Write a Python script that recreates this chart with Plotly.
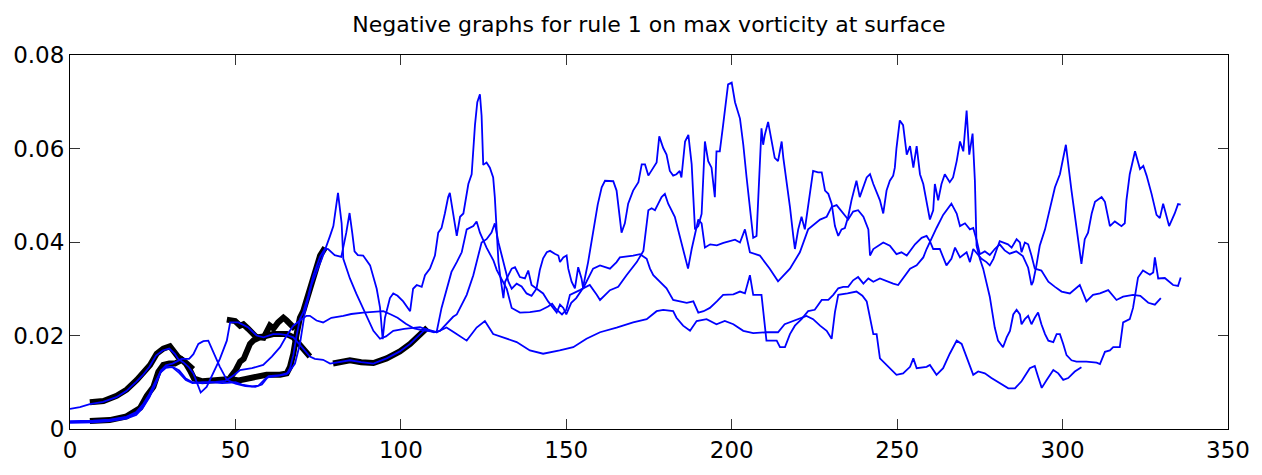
import plotly.graph_objects as go

# Time step (x) and max surface vorticity (y) for each track, as (x, y) pairs.
track_d = [
    (0, 0.0043), (3, 0.0047), (6, 0.0053), (10, 0.0058), (14, 0.0068), (17, 0.0081), (20, 0.0101),
    (22, 0.0115), (24, 0.0133), (26, 0.0157), (28, 0.0168), (30, 0.0172), (31.7, 0.0161), (32.7, 0.0150),
    (34.2, 0.0143), (35.8, 0.0133), (37.3, 0.0119), (38.8, 0.0088), (39.5, 0.0078), (41.3, 0.0090),
    (43.3, 0.0119), (45.3, 0.0150), (47.4, 0.0189), (48.4, 0.0228), (50.9, 0.0228), (53.9, 0.0217),
    (56.4, 0.0200), (58.5, 0.0196), (61.4, 0.0203), (63.5, 0.0203), (65.5, 0.0201), (67.5, 0.0196),
    (69.5, 0.0180), (71.5, 0.0163), (72.5, 0.0155), (74, 0.0150), (76.5, 0.0148), (78.6, 0.0140),
    (81, 0.0143), (84.6, 0.0147), (88, 0.0143), (91.7, 0.0140), (95.7, 0.0151), (99.7, 0.0166),
    (102.8, 0.0182), (105.8, 0.0203), (107.5, 0.0214), (110.8, 0.0207), (113.8, 0.0217), (116.5, 0.0205),
    (119.9, 0.0189), (122.9, 0.0217), (125.4, 0.0231), (127.9, 0.0203), (131, 0.0195), (135, 0.0186),
    (139, 0.0168), (143, 0.0161), (148, 0.0168), (152.1, 0.0175), (156.1, 0.0193), (160.2, 0.0207),
    (165.2, 0.0217), (170.2, 0.0228), (174.3, 0.0235), (177.3, 0.0252), (179.3, 0.0255), (182.3, 0.0252),
    (183.3, 0.0238), (185.3, 0.0221), (187.4, 0.0210), (189.4, 0.0231), (192.4, 0.0235), (195.4, 0.0224),
    (197.9, 0.0231), (200.5, 0.0224), (203.5, 0.0210), (206.5, 0.0205), (210.5, 0.0207), (214, 0.0207),
    (216, 0.0224), (218.6, 0.0231), (221.1, 0.0238), (222.6, 0.0242), (224.6, 0.0235), (226.7, 0.0221),
    (228.7, 0.0210), (230.2, 0.0193), (231.2, 0.0250), (232.2, 0.0287), (235, 0.0290), (237.7, 0.0294),
    (239.5, 0.0285), (240.8, 0.0273), (242.8, 0.0203), (243.8, 0.0203), (244.8, 0.0151), (246.8, 0.0137),
    (249.8, 0.0116), (251.8, 0.0119), (253.9, 0.0133), (254.9, 0.0151), (255.9, 0.0130), (258.9, 0.0133),
    (259.9, 0.0137), (261.9, 0.0116), (263.9, 0.0130), (265.9, 0.0161), (268, 0.0189), (269.5, 0.0182),
    (271, 0.0154), (273, 0.0116), (274.5, 0.0123), (276.5, 0.0119), (278.5, 0.0109), (281, 0.0098),
    (283.6, 0.0087), (285.6, 0.0087), (287.6, 0.0102), (290.1, 0.0130), (291.6, 0.0135), (292.6, 0.0112),
    (293.7, 0.0088), (295.2, 0.0105), (297.2, 0.0126), (298.7, 0.0119), (300.2, 0.0105), (301.7, 0.0109),
    (303.7, 0.0123), (305.7, 0.0132),
]

track_e = [
    (0, 0.0015), (3, 0.0015), (7, 0.0016), (12, 0.0019), (17, 0.0025), (20, 0.0033), (22, 0.0048),
    (24, 0.0070), (26, 0.0100), (27.5, 0.0122), (29, 0.0131), (31, 0.0133), (33, 0.0125), (35, 0.0108),
    (37, 0.0100), (40, 0.0098), (43, 0.0100), (46, 0.0098), (50, 0.0100), (52, 0.0095), (55, 0.0091),
    (57, 0.0093), (59.4, 0.0110), (63.5, 0.0114), (65.5, 0.0117), (66.5, 0.0130), (67.5, 0.0158),
    (68.5, 0.0200), (69.5, 0.0235), (70.5, 0.0250), (72, 0.0285), (73.5, 0.0327), (75.6, 0.0369),
    (77.1, 0.0386), (78, 0.0385), (80, 0.0372), (82, 0.0368), (83.5, 0.0420), (84.5, 0.0462),
    (85.3, 0.0420), (86, 0.0380), (87, 0.0372), (88.6, 0.0371), (90.7, 0.0350), (92.7, 0.0300),
    (93.7, 0.0260), (94.5, 0.0192), (95.2, 0.0238), (96.7, 0.0280), (97.7, 0.0290), (99, 0.0285),
    (100.7, 0.0273), (102.8, 0.0252), (103.7, 0.0300), (104.8, 0.0308), (106.3, 0.0304), (107.3, 0.0329),
    (108.8, 0.0343), (110.3, 0.0371), (111.3, 0.0420), (112.3, 0.0430), (113.3, 0.0461), (114.3, 0.0496),
    (114.8, 0.0505), (115.8, 0.0465), (116.9, 0.0413), (117.9, 0.0454), (118.9, 0.0461), (120.4, 0.0524),
    (121.4, 0.0545), (122.4, 0.0650), (123.1, 0.0699), (123.9, 0.0716), (124.4, 0.0670), (124.9, 0.0565),
    (125.9, 0.0570), (126.9, 0.0559), (127.9, 0.0538), (128.4, 0.0496), (129, 0.0427), (129.5, 0.0357),
    (130, 0.0329), (131, 0.0280), (131.5, 0.0315), (132.5, 0.0329), (133.5, 0.0343), (134.5, 0.0346),
    (136, 0.0325), (137.5, 0.0322), (138.5, 0.0339), (139.5, 0.0308), (141, 0.0301), (143, 0.0290),
    (144.5, 0.0273), (146, 0.0259), (147.1, 0.0249), (148.1, 0.0266), (149.1, 0.0259), (150, 0.0245),
    (151.5, 0.0270), (153, 0.0280), (155, 0.0301), (156.6, 0.0357), (158.2, 0.0420), (159.5, 0.0480),
    (160.7, 0.0517), (161.7, 0.0531), (164.2, 0.0530), (165.2, 0.0510), (166.7, 0.0420), (167.7, 0.0440),
    (168.7, 0.0482), (170.2, 0.0510), (171.8, 0.0528), (172.8, 0.0566), (173.8, 0.0566), (174.8, 0.0542),
    (177.3, 0.0570), (178.1, 0.0626), (179.3, 0.0601), (180.3, 0.0587), (181.3, 0.0552), (182.3, 0.0542),
    (183.3, 0.0545), (184.3, 0.0552), (184.8, 0.0538), (185.9, 0.0615), (186.9, 0.0629), (187.9, 0.0566),
    (188.4, 0.0496), (188.9, 0.0427), (189.9, 0.0434), (190.9, 0.0460), (191.9, 0.0615), (192.9, 0.0573),
    (193.9, 0.0559), (194.9, 0.0496), (195.4, 0.0594), (196.4, 0.0594), (197.4, 0.0650), (198.9, 0.0737),
    (200, 0.0741), (201, 0.0699), (202.5, 0.0664), (203.5, 0.0608), (204.5, 0.0538), (205.5, 0.0475),
    (206.5, 0.0409), (207.5, 0.0413), (208, 0.0482), (208.5, 0.0580), (209, 0.0643), (209.5, 0.0608),
    (210, 0.0629), (211, 0.0657), (212, 0.0622), (213, 0.0580), (214, 0.0573), (214.6, 0.0594),
    (215.1, 0.0615), (215.6, 0.0580), (216.6, 0.0531), (217.6, 0.0475), (218.6, 0.0413), (219.1, 0.0385),
    (220.1, 0.0427), (221.1, 0.0454), (222.1, 0.0427), (222.6, 0.0454), (223.6, 0.0496), (224.6, 0.0552),
    (226.1, 0.0549), (227.2, 0.0549), (228.2, 0.0510), (229.2, 0.0503), (230.2, 0.0482), (231.2, 0.0434),
    (232.2, 0.0413), (233.2, 0.0427), (234.2, 0.0430), (235.2, 0.0454), (236.2, 0.0489), (237.7, 0.0531),
    (238.7, 0.0496), (239.8, 0.0517), (240.8, 0.0538), (241.8, 0.0545), (242.8, 0.0524), (244.8, 0.0489),
    (245.8, 0.0461), (246.8, 0.0510), (247.8, 0.0531), (248.8, 0.0542), (249.3, 0.0559), (249.8, 0.0601),
    (250.8, 0.0660), (251.8, 0.0650), (252.9, 0.0587), (253.9, 0.0605), (254.9, 0.0559), (255.9, 0.0605),
    (256.9, 0.0545), (257.9, 0.0524), (258.9, 0.0489), (259.9, 0.0448), (260.9, 0.0468), (261.4, 0.0524),
    (262.4, 0.0489), (263.4, 0.0524), (264.4, 0.0545), (265.9, 0.0528), (266.9, 0.0538), (268, 0.0573),
    (269, 0.0615), (270, 0.0594), (271, 0.0681), (271.8, 0.0587), (272.8, 0.0632), (273.5, 0.0531),
    (274, 0.0392), (275, 0.0364), (276, 0.0343), (277, 0.0315), (278, 0.0283), (279.5, 0.0217),
    (280.5, 0.0189), (282, 0.0175), (283.1, 0.0196), (284.1, 0.0210), (285.1, 0.0245), (286.1, 0.0255),
    (287.1, 0.0245), (287.6, 0.0224), (288.6, 0.0235), (289.6, 0.0242), (290.6, 0.0224), (291.6, 0.0238),
    (292.6, 0.0249), (293.6, 0.0224), (294.7, 0.0203), (295.7, 0.0189), (297.2, 0.0186), (298.2, 0.0203),
    (299.2, 0.0203), (300.2, 0.0182), (301.2, 0.0158), (302.7, 0.0147), (304.2, 0.0144), (307.2, 0.0144),
    (310.3, 0.0142), (311.3, 0.0139), (312.8, 0.0165), (314.3, 0.0168), (315.3, 0.0175), (317.3, 0.0175),
    (318.3, 0.0228), (320.3, 0.0235), (321.3, 0.0259), (322.8, 0.0324), (324.3, 0.0339), (326.4, 0.0330),
    (327.4, 0.0335), (327.9, 0.0367), (328.9, 0.0322), (330.9, 0.0323), (333.4, 0.0308), (334.9, 0.0306),
    (335.7, 0.0324),
]

track_q = [
    (0, 0.0013), (3, 0.0013), (7, 0.0014), (12, 0.0017), (17, 0.0022), (20, 0.0030), (22, 0.0045),
    (24, 0.0068), (26, 0.0098), (27.5, 0.0125), (29, 0.0136), (31, 0.0140), (33.8, 0.0150), (36, 0.0150),
    (37.3, 0.0160), (38.8, 0.0182), (40.3, 0.0188), (41.8, 0.0189), (43.5, 0.0160), (45.3, 0.0133),
    (47.4, 0.0105), (50, 0.0097), (53, 0.0092), (56, 0.0090), (58, 0.0095), (60, 0.0113), (63.5, 0.0115),
    (66, 0.0120), (68, 0.0140), (69.5, 0.0182), (71, 0.0250), (73, 0.0308), (75, 0.0345), (76.1, 0.0364),
    (78.6, 0.0413), (79.6, 0.0434), (81, 0.0505), (82.1, 0.0440), (82.6, 0.0364), (84.6, 0.0322),
    (86.5, 0.0290), (88.1, 0.0266), (90, 0.0235), (91.7, 0.0210), (93.7, 0.0193), (95.5, 0.0198),
    (97.7, 0.0210), (101, 0.0214), (105.8, 0.0218), (108, 0.0212), (110, 0.0207), (111.8, 0.0210),
    (113.8, 0.0225), (115.8, 0.0240), (116.9, 0.0245), (118.4, 0.0265), (119.9, 0.0287), (121.9, 0.0329),
    (123.4, 0.0371), (124.4, 0.0399), (125.9, 0.0406), (127.4, 0.0420), (128.4, 0.0440), (129.5, 0.0399),
    (130.5, 0.0371), (132.5, 0.0315), (133.5, 0.0300), (135, 0.0311), (136.5, 0.0305), (138, 0.0290),
    (139.5, 0.0285), (141, 0.0300), (142, 0.0340), (143, 0.0365), (144.1, 0.0378), (145.1, 0.0381),
    (146.5, 0.0375), (147.6, 0.0371), (148.1, 0.0357), (149.1, 0.0367), (150.1, 0.0371), (150.6, 0.0343),
    (151.6, 0.0315), (152.6, 0.0301), (153.6, 0.0346), (154.6, 0.0322), (155.1, 0.0301), (156.1, 0.0315),
    (158.1, 0.0343), (160.2, 0.0350), (163.2, 0.0343), (165.2, 0.0357), (166.2, 0.0367), (170.2, 0.0371),
    (172.3, 0.0374), (174.3, 0.0364), (175.3, 0.0343), (176.3, 0.0329), (180.3, 0.0301), (182.3, 0.0276),
    (184.3, 0.0273), (186.4, 0.0270), (188.4, 0.0273), (189.9, 0.0249), (191.5, 0.0252), (193.4, 0.0259),
    (195.5, 0.0273), (197.4, 0.0287), (200.5, 0.0288), (202.5, 0.0294), (204, 0.0290), (205.5, 0.0329),
    (206.5, 0.0287), (209, 0.0287), (210.5, 0.0189), (213.6, 0.0189), (214.6, 0.0175), (216.1, 0.0175),
    (217.6, 0.0203), (219.1, 0.0221), (221.1, 0.0235), (223.1, 0.0252), (225.1, 0.0255), (227.2, 0.0276),
    (229.2, 0.0276), (230.7, 0.0287), (232.2, 0.0301), (233.7, 0.0304), (235.2, 0.0304), (236.7, 0.0318),
    (238.2, 0.0325), (239.8, 0.0311), (241.3, 0.0322), (242.8, 0.0315), (244.8, 0.0322), (246.8, 0.0316),
    (248.8, 0.0311), (250.3, 0.0308), (251.8, 0.0322), (253.9, 0.0343), (255.9, 0.0350), (257.9, 0.0367),
    (258.9, 0.0385), (260.4, 0.0409), (261.9, 0.0430), (263.9, 0.0458), (266.4, 0.0482), (268, 0.0461),
    (269, 0.0434), (270.5, 0.0440), (272, 0.0427), (273, 0.0430), (274, 0.0405), (275, 0.0374),
    (276.5, 0.0380), (278, 0.0372), (279.5, 0.0385), (281, 0.0395), (282.5, 0.0382), (284, 0.0375),
    (286, 0.0380), (288, 0.0370), (289.6, 0.0345), (290.6, 0.0308), (291.1, 0.0315), (292.1, 0.0350),
    (293.1, 0.0392), (294.7, 0.0427), (296.7, 0.0489), (297.7, 0.0517), (299.2, 0.0545), (301, 0.0608),
    (302.7, 0.0510), (304.7, 0.0406), (305.7, 0.0353), (306.7, 0.0406), (307.7, 0.0420), (308.8, 0.0461),
    (309.8, 0.0486), (311.8, 0.0496), (312.8, 0.0486), (314.3, 0.0434), (315.8, 0.0444), (317.8, 0.0434),
    (318.8, 0.0440), (319.3, 0.0489), (320.3, 0.0545), (321.9, 0.0594), (323.4, 0.0556), (324.4, 0.0563),
    (325.4, 0.0542), (326.9, 0.0503), (328.4, 0.0458), (329.4, 0.0451), (330.4, 0.0482), (331.2, 0.0461),
    (332.2, 0.0434), (333.9, 0.0461), (334.9, 0.0481), (335.7, 0.0480),
]

track_s = [
    (0, 0.0017), (3, 0.0017), (7, 0.0018), (12, 0.0020), (17, 0.0026), (20, 0.0036), (22, 0.0052),
    (24, 0.0075), (26, 0.0105), (27.5, 0.0125), (29, 0.0133), (31, 0.0132), (33, 0.0120), (35, 0.0105),
    (37, 0.0098), (40, 0.0100), (44, 0.0101), (47, 0.0103), (49.5, 0.0115), (51.4, 0.0126), (55, 0.0130),
    (58.4, 0.0137), (61, 0.0155), (63.5, 0.0175), (65.5, 0.0200), (67.5, 0.0221), (69.5, 0.0232),
    (71.5, 0.0242), (72.5, 0.0242), (74.5, 0.0232), (76.5, 0.0228), (79, 0.0238), (82.6, 0.0242),
    (85, 0.0246), (88.6, 0.0249), (91.7, 0.0250), (94.7, 0.0252), (97, 0.0245), (99, 0.0238),
    (101.5, 0.0225), (104, 0.0215), (106, 0.0212), (108, 0.0210), (110.8, 0.0207), (112.3, 0.0259),
    (113.8, 0.0300), (115.3, 0.0336), (116.9, 0.0357), (118.4, 0.0378), (119.9, 0.0427), (121.9, 0.0434),
    (122.9, 0.0444), (123.9, 0.0420), (125.9, 0.0388), (126.9, 0.0374), (128, 0.0360), (129, 0.0340),
    (130.5, 0.0320), (132, 0.0300), (133.5, 0.0259), (136, 0.0249), (139, 0.0250), (142, 0.0253),
    (144.5, 0.0262), (145.7, 0.0268), (146.7, 0.0258), (147.7, 0.0252), (148.7, 0.0245), (150, 0.0255),
    (151.1, 0.0287), (154.1, 0.0297), (157.1, 0.0308), (159.2, 0.0287), (160.2, 0.0276), (163.2, 0.0297),
    (165.7, 0.0304), (168.2, 0.0329), (171.3, 0.0357), (173.3, 0.0381), (174.8, 0.0468), (175.8, 0.0472),
    (176.8, 0.0468), (177.8, 0.0482), (178.8, 0.0496), (179.8, 0.0503), (180.8, 0.0482), (182.8, 0.0454),
    (184.8, 0.0399), (186.8, 0.0343), (187.9, 0.0385), (188.9, 0.0420), (189.9, 0.0448), (190.9, 0.0440),
    (191.9, 0.0388), (193.5, 0.0395), (195.5, 0.0393), (197.5, 0.0398), (199.5, 0.0402), (201, 0.0405),
    (202.5, 0.0399), (204, 0.0427), (205.5, 0.0378), (208.5, 0.0371), (211.5, 0.0343), (214, 0.0316),
    (217.6, 0.0343), (220.6, 0.0378), (223.1, 0.0427), (226.7, 0.0448), (228.7, 0.0454), (230.2, 0.0475),
    (231.7, 0.0479), (233.7, 0.0461), (235.2, 0.0448), (236.7, 0.0465), (238.2, 0.0468), (239.8, 0.0454),
    (241.3, 0.0427), (241.8, 0.0371), (242.8, 0.0385), (245.8, 0.0399), (247.8, 0.0392), (249.8, 0.0374),
    (251.3, 0.0378), (252.9, 0.0371), (255.4, 0.0395), (257.4, 0.0409), (258.9, 0.0413), (259.9, 0.0402),
    (260.9, 0.0385), (262.9, 0.0385), (264.9, 0.0350), (266.4, 0.0364), (267.5, 0.0388), (269, 0.0367),
    (271, 0.0378), (272, 0.0357), (273, 0.0385), (275.5, 0.0364), (277, 0.0357), (278, 0.0350),
    (279.1, 0.0364), (281, 0.0402), (282.1, 0.0399), (283.5, 0.0395), (284.6, 0.0388), (286.1, 0.0406),
    (287.1, 0.0399), (287.6, 0.0378), (288.6, 0.0399), (289.6, 0.0395), (290.6, 0.0371), (291.6, 0.0343),
    (293.6, 0.0339), (295.7, 0.0315), (297.7, 0.0304), (299.7, 0.0294), (302.2, 0.0290), (305.2, 0.0308),
    (307.2, 0.0273), (309.2, 0.0287), (311.3, 0.0290), (313.8, 0.0297), (316.3, 0.0276), (318.3, 0.0283),
    (321.3, 0.0287), (323.5, 0.0285), (325.9, 0.0270), (327.9, 0.0266), (329.7, 0.0280),
]

# Highlighted (negative) stretches, drawn as thick black segments
neg_1 = [
    (6.0, 0.0057), (10.1, 0.0060), (14.1, 0.0071), (17.1, 0.0084), (20.2, 0.0105), (22.2, 0.0119),
    (24.2, 0.0137), (26.2, 0.0161), (28.2, 0.0172), (30.2, 0.0177), (31.7, 0.0165), (32.7, 0.0154),
    (34.2, 0.0147), (35.8, 0.0137), (37.2, 0.0128),
]
neg_2 = [
    (6.0, 0.0017), (12, 0.0019), (17.1, 0.0027), (21.2, 0.0045), (23.2, 0.0071), (25.2, 0.0090),
    (26.7, 0.0122), (28.2, 0.0137), (30, 0.0140), (31.7, 0.0140), (33.8, 0.0148), (35, 0.0140),
    (36.3, 0.0125), (37.5, 0.0108), (40, 0.0102), (43, 0.0103), (46, 0.0105), (48.4, 0.0107),
    (51, 0.0104), (54.4, 0.0108), (57, 0.0110), (59.4, 0.0116), (63.5, 0.0116), (65.5, 0.0119),
    (66.5, 0.0133), (67.5, 0.0161), (68.5, 0.0203), (69.5, 0.0238), (70.5, 0.0252), (72, 0.0287),
    (73.5, 0.0329), (75.6, 0.0371), (77.1, 0.0388),
]
neg_3 = [
    (47.4, 0.0234), (49.9, 0.0231), (51.4, 0.0221), (52.4, 0.0224), (53.9, 0.0214), (55.4, 0.0203),
    (56.4, 0.0196), (58.5, 0.0198), (61.4, 0.0203), (63.5, 0.0203), (65.5, 0.0203), (67.5, 0.0196),
    (69.5, 0.0178), (71.5, 0.0163), (72.5, 0.0155),
]
neg_4 = [
    (48.4, 0.0110), (50, 0.0125), (51.4, 0.0144), (52.5, 0.0150), (54.4, 0.0182), (55.5, 0.0190),
    (57.4, 0.0196), (58.5, 0.0195), (60.4, 0.0221), (61.5, 0.0215), (62.9, 0.0228), (64.5, 0.0238),
    (65.5, 0.0232), (66.5, 0.0224), (68, 0.0214),
]
neg_5 = [
    (79.5, 0.0140), (81, 0.0143), (84.6, 0.0147), (88, 0.0143), (91.7, 0.0141), (95.7, 0.0151),
    (99.7, 0.0166), (102.8, 0.0182), (105.8, 0.0203), (108, 0.0217),
]

x_ticks = [0, 50, 100, 150, 200, 250, 300, 350]
y_ticks = [0, 0.02, 0.04, 0.06, 0.08]
y_tick_text = ["0", "0.02", "0.04", "0.06", "0.08"]
title_text = "Negative graphs for rule 1 on max vorticity at surface"

FONT = "DejaVu Sans, Liberation Sans, Arial, sans-serif"

fig = go.Figure()

for seg in [neg_1, neg_2, neg_3, neg_4, neg_5]:
    xs, ys = zip(*seg)
    fig.add_trace(go.Scatter(x=xs, y=ys, mode="lines",
                             line=dict(color="#000000", width=6),
                             hoverinfo="skip"))

for track in [track_d, track_e, track_q, track_s]:
    xs, ys = zip(*track)
    fig.add_trace(go.Scatter(x=xs, y=ys, mode="lines",
                             line=dict(color="#0000FF", width=1.8),
                             hoverinfo="skip"))

axis_common = dict(
    showgrid=False, zeroline=False, showline=True, mirror="ticks",
    linecolor="#000000", linewidth=1, ticks="inside", ticklen=10,
    tickwidth=1, tickcolor="#333333",
    tickfont=dict(family=FONT, size=23, color="#000000"),
)

fig.update_layout(
    width=1262, height=475,
    margin=dict(l=70, r=34, t=55, b=38),
    paper_bgcolor="#ffffff", plot_bgcolor="#ffffff",
    showlegend=False,
    title=dict(text=title_text, x=0.5, xref="paper", xanchor="center",
               y=1 - 24 / 475, yref="container", yanchor="middle",
               font=dict(family=FONT, size=22, color="#000000")),
    xaxis=dict(range=[0, 350], tickvals=x_ticks, **axis_common),
    yaxis=dict(range=[0, 0.08], tickvals=y_ticks, ticktext=y_tick_text, **axis_common),
)

fig.write_html("out.html")
